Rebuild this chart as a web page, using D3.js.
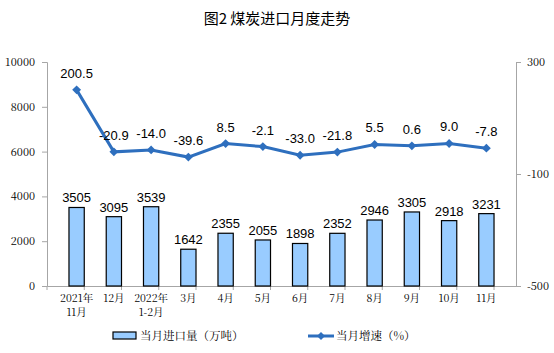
<!DOCTYPE html>
<html>
<head>
<meta charset="utf-8">
<script src="https://cdn.jsdelivr.net/npm/d3@7"></script>
<style>
  body { margin: 0; background: #fff; }
  svg { display: block; }
</style>
</head>
<body>
<svg id="chart" width="554" height="353"></svg>
<script>
// Dữ liệu
const categories = ["2021年\n11月", "12月", "2022年\n1-2月", "3月", "4月", "5月", "6月", "7月", "8月", "9月", "10月", "11月"];
const importVol = [3505, 3095, 3539, 1642, 2355, 2055, 1898, 2352, 2946, 3305, 2918, 3231];
const growth = [200.5, -20.9, -14.0, -39.6, 8.5, -2.1, -33.0, -21.8, 5.5, 0.6, 9.0, -7.8];
const leftTicks = [0, 2000, 4000, 6000, 8000, 10000];
const rightTicks = [-500, -100, 300];

const svg = d3.select("#chart");
const margin = {top: 62, right: 38, bottom: 67, left: 47};
const width = 554 - margin.left - margin.right,
      height = 353 - margin.top - margin.bottom;

const g = svg.append("g").attr("transform", `translate(${margin.left},${margin.top})`);

const serif = "SimSun, 'Noto Serif CJK SC', 'Noto Sans CJK SC', serif";
const axisColor = "#a6a6a6";

// Thang đo
const x = d3.scaleBand().domain(categories).range([0, width]).padding(0.59);
const y = d3.scaleLinear().domain([0, 10000]).range([height, 0]);
const y2 = d3.scaleLinear().domain([-500, 300]).range([height, 0]);

// Tiêu đề
svg.append("text")
  .attr("x", 277).attr("y", 24)
  .attr("text-anchor", "middle")
  .style("font-family", "'Noto Sans CJK SC', sans-serif")
  .style("font-size", "15px")
  .text("图2  煤炭进口月度走势");

// Trục trái
const yAxis = g.append("g")
  .call(d3.axisLeft(y).tickValues(leftTicks).tickFormat(d => String(d)).tickSize(5).tickPadding(7));
yAxis.select(".domain").attr("stroke", axisColor);
yAxis.selectAll("line").attr("stroke", axisColor);
yAxis.selectAll("text").style("font-family", serif).style("font-size", "11px").attr("fill", "#000");

// Trục phải
const y2Axis = g.append("g")
  .attr("transform", `translate(${width},0)`)
  .call(d3.axisRight(y2).tickValues(rightTicks).tickFormat(d => String(d)).tickSize(5).tickPadding(6));
y2Axis.select(".domain").attr("stroke", axisColor);
y2Axis.selectAll("line").attr("stroke", axisColor);
y2Axis.selectAll("text").style("font-family", serif).style("font-size", "11px").attr("fill", "#000");

// Trục X
const xAxis = g.append("g")
  .attr("transform", `translate(0,${height})`)
  .call(d3.axisBottom(x).tickSize(0).tickPadding(0));
xAxis.select(".domain").attr("stroke", axisColor);
xAxis.selectAll(".tick text").remove();
xAxis.selectAll(".tick").each(function(d) {
  const t = d3.select(this).append("text")
    .attr("fill", "#000")
    .attr("text-anchor", "middle")
    .style("font-family", serif)
    .style("font-size", "10.5px");
  d.split("\n").forEach((s, i) => {
    t.append("tspan").attr("x", 0).attr("y", 16 + i * 14).text(s);
  });
});
// vạch chia giữa các nhóm
g.append("g").selectAll("line")
  .data(d3.range(categories.length + 1))
  .enter().append("line")
  .attr("x1", i => i * x.step()).attr("x2", i => i * x.step())
  .attr("y1", height).attr("y2", height + 4)
  .attr("stroke", axisColor);

// Cột
g.selectAll("rect.bar")
  .data(importVol)
  .enter().append("rect")
  .attr("class", "bar")
  .attr("x", (d, i) => x(categories[i]))
  .attr("y", d => y(d))
  .attr("width", x.bandwidth())
  .attr("height", d => height - y(d))
  .attr("fill", "#99ccff")
  .attr("stroke", "#000")
  .attr("stroke-width", 1.2);

g.selectAll("text.barval")
  .data(importVol)
  .enter().append("text")
  .attr("class", "barval")
  .attr("x", (d, i) => x(categories[i]) + x.bandwidth() / 2)
  .attr("y", d => y(d) - 5)
  .attr("text-anchor", "middle")
  .style("font-family", "Arial, 'Liberation Sans', sans-serif")
  .style("font-size", "13px")
  .text(d => d);

// Đường tăng trưởng
const cx = i => x(categories[i]) + x.bandwidth() / 2;
const lineColor = "#2e6fbe";
g.append("path")
  .datum(growth)
  .attr("fill", "none")
  .attr("stroke", lineColor)
  .attr("stroke-width", 3)
  .attr("d", d3.line().x((d, i) => cx(i)).y(d => y2(d)));

g.selectAll("path.marker")
  .data(growth)
  .enter().append("path")
  .attr("class", "marker")
  .attr("transform", (d, i) => `translate(${cx(i)},${y2(d)})`)
  .attr("d", d3.symbol().type(d3.symbolDiamond2).size(50))
  .attr("fill", lineColor);

g.selectAll("text.lineval")
  .data(growth)
  .enter().append("text")
  .attr("class", "lineval")
  .attr("x", (d, i) => cx(i))
  .attr("y", d => y2(d) - 12)
  .attr("text-anchor", "middle")
  .style("font-family", "Arial, 'Liberation Sans', sans-serif")
  .style("font-size", "13px")
  .text(d => d.toFixed(1));

// Chú thích
const leg = svg.append("g").attr("transform", "translate(0,336)");
leg.append("rect").attr("x", 113).attr("y", -4).attr("width", 23).attr("height", 7)
  .attr("fill", "#99ccff").attr("stroke", "#000").attr("stroke-width", 1.2);
leg.append("text").attr("x", 140).attr("y", 4)
  .style("font-family", serif).style("font-size", "11.5px")
  .text("当月进口量（万吨）");
leg.append("line").attr("x1", 308).attr("x2", 334).attr("y1", 0).attr("y2", 0)
  .attr("stroke", lineColor).attr("stroke-width", 3);
leg.append("path").attr("transform", "translate(321,0)")
  .attr("d", d3.symbol().type(d3.symbolDiamond2).size(40)).attr("fill", lineColor);
leg.append("text").attr("x", 336).attr("y", 4)
  .style("font-family", serif).style("font-size", "11.5px")
  .text("当月增速（%）");
</script>
</body>
</html>
